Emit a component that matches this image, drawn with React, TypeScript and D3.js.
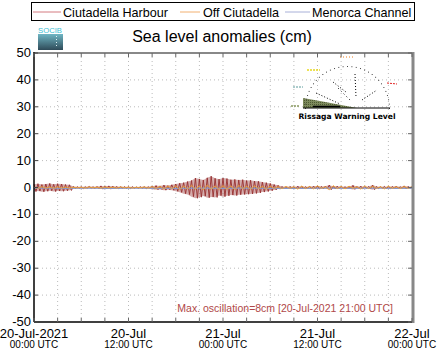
import React from "react";
import * as d3 from "d3";

// ---- data (cm), Ciutadella Harbour envelope per 30 min from 20-Jul 00:00 to 22-Jul 00:00
const harbourHigh = [
  1.2, 1.4, 1.1, 1.3, 1.5, 1.2, 1.4, 1.3, 1.1, 1.0,
  0.4, 0.3, 0.3, 0.3, 0.4, 0.3, 0.4, 0.6, 0.5, 0.6,
  0.5, 0.4, 0.3, 0.3, 0.3, 0.3, 0.2, 0.3, 0.3, 0.3,
  0.5, 0.7, 0.6, 0.9, 0.7, 1.0, 1.3, 1.6, 1.8, 2.2,
  2.6, 3.5, 3.2, 2.8, 3.6, 4.2, 3.4, 3.1, 3.5, 3.3,
  2.9, 3.0, 2.8, 2.9, 2.6, 2.7, 2.4, 2.3, 2.0, 1.8,
  1.5, 1.1, 0.8, 0.4, 0.3, 0.4, 0.3, 0.5, 0.4, 0.3,
  0.4, 0.5, 0.6, 0.4, 0.5, 0.9, 0.4, 0.5, 0.4, 0.3,
  0.4, 0.8, 0.4, 0.5, 0.3, 0.4, 0.9, 0.4, 0.3, 0.4,
  0.3, 0.4, 0.5, 0.3, 0.6, 0.4, 0.3,
];
const harbourLow = [
  -1.5, -1.3, -1.6, -1.4, -1.2, -1.5, -1.3, -1.4, -1.2, -1.1,
  -0.4, -0.3, -0.4, -0.3, -0.3, -0.4, -0.4, -0.6, -0.5, -0.6,
  -0.4, -0.4, -0.3, -0.3, -0.4, -0.3, -0.3, -0.3, -0.4, -0.3,
  -0.6, -0.8, -0.7, -1.0, -0.8, -1.0, -1.4, -1.8, -2.3, -2.6,
  -3.4, -4.0, -3.6, -3.2, -3.8, -3.5, -3.7, -3.0, -3.4, -3.1,
  -2.8, -3.0, -2.7, -2.6, -2.5, -2.4, -2.2, -2.0, -1.7, -1.5,
  -1.2, -0.9, -0.6, -0.4, -0.4, -0.3, -0.5, -0.4, -0.3, -0.4,
  -0.5, -0.4, -0.6, -0.5, -0.4, -0.8, -0.5, -0.4, -0.3, -0.4,
  -0.5, -0.7, -0.4, -0.4, -0.3, -0.5, -0.8, -0.4, -0.3, -0.4,
  -0.4, -0.3, -0.4, -0.3, -0.5, -0.3, -0.4,
];
// Off Ciutadella envelope per hour
const offHigh = [
  0.2, 0.3, 0.2, 0.3, 0.2, 0.1, 0.1, 0.2, 0.1, 0.2,
  0.1, 0.2, 0.1, 0.1, 0.2, 0.3, 0.4, 0.5, 0.6, 0.5,
  0.8, 0.6, 0.9, 0.5, 0.7, 0.6, 0.8, 0.5, 0.6, 0.4,
  0.5, 0.3, 0.4, 0.3, 0.5, 0.4, 0.6, 0.3, 0.7, 0.4,
  0.5, 0.3, 0.6, 0.4, 0.3, 0.5, 0.3, 0.4, 0.3,
];
const offLow = [
  -0.3, -0.2, -0.3, -0.2, -0.2, -0.1, -0.2, -0.1, -0.2, -0.1,
  -0.2, -0.1, -0.2, -0.1, -0.2, -0.3, -0.5, -0.4, -0.7, -0.5,
  -0.6, -0.9, -0.5, -0.7, -0.6, -0.8, -0.5, -0.6, -0.4, -0.5,
  -0.3, -0.4, -0.3, -0.6, -0.4, -0.5, -0.3, -0.8, -0.4, -0.5,
  -0.3, -0.6, -0.4, -0.3, -0.5, -0.3, -0.4, -0.3, -0.3,
];
// Menorca Channel, every 2 h
const channel = [
  -0.2, -0.2, -0.3, -0.2, -0.2, -0.3, -0.2, -0.2, -0.3, -0.3, -0.2, -0.2,
  -0.3, -0.2, -0.2, -0.3, -0.2, -0.3, -0.2, -0.2, -0.3, -0.2, -0.2, -0.3, -0.2,
];
const seriesNames = ["Ciutadella Harbour", "Off Ciutadella", "Menorca Channel"];
const seriesColors = ["#983030", "#f0a030", "#8a98c8"];
const legendColors = ["#d47a80", "#f2b070", "#a8b0d8"];
const yTicks = [50, 40, 30, 20, 10, 0, -10, -20, -30, -40, -50];
const xLabelDates = ["20-Jul-2021", "20-Jul", "21-Jul", "21-Jul", "22-Jul"];
const xLabelTimes = ["00:00 UTC", "12:00 UTC", "00:00 UTC", "12:00 UTC", "00:00 UTC"];
const annotation = "Max. oscillation=8cm [20-Jul-2021 21:00 UTC]";

const start = new Date(Date.UTC(2021, 6, 20, 0, 0));
const end = new Date(Date.UTC(2021, 6, 22, 0, 0));
const H = 3600 * 1000;

export default function App() {
  const L = 34, R = 412, T = 53, B = 322;
  const x = d3.scaleUtc().domain([start, end]).range([L, R]);
  const y = d3.scaleLinear().domain([-50, 50]).range([B, T]);
  const font = "'Liberation Sans', Arial, Helvetica, sans-serif";

  const minor = d3.range(0, 49, 3).map((h) => new Date(start.getTime() + h * H));
  const major = d3.range(0, 49, 12).map((h) => new Date(start.getTime() + h * H));

  // harbour zigzag
  const hPts: [number, number][] = [];
  harbourHigh.forEach((v, i) => {
    const t = start.getTime() + i * 0.5 * H;
    hPts.push([x(new Date(t)), y(v)]);
    if (i < harbourHigh.length - 1)
      hPts.push([x(new Date(t + 0.25 * H)), y(harbourLow[i])]);
  });
  const line = d3.line<[number, number]>();
  const area = d3
    .area<number>()
    .x((_, i) => x(new Date(start.getTime() + i * 0.5 * H)))
    .y0((_, i) => y(harbourLow[i]))
    .y1((v) => y(v));

  const oPts: [number, number][] = [];
  offHigh.forEach((v, i) => {
    const t = start.getTime() + i * H;
    oPts.push([x(new Date(t)), y(v)]);
    if (i < offHigh.length - 1) oPts.push([x(new Date(t + 0.5 * H)), y(offLow[i])]);
  });
  const cPts: [number, number][] = channel.map((v, i) => [
    x(new Date(start.getTime() + i * 2 * H)),
    y(v),
  ]);

  // inset gauge
  const gcx = 347, gcy = 108, gr = 42;
  const arcDots = d3.range(0, 31).map((k) => {
    const a = Math.PI - (k / 30) * Math.PI;
    return [gcx + gr * Math.cos(a), gcy - gr * Math.sin(a)];
  });

  return (
    <svg width={441} height={359} style={{ display: "block", position: "absolute", left: 0, top: 0 }}>
      <defs>
        <linearGradient id="logo" x1="0" y1="0" x2="0" y2="1">
          <stop offset="0" stopColor="#6fb6c4" />
          <stop offset="1" stopColor="#2e4a58" />
        </linearGradient>
        <pattern id="olive" width="2" height="2" patternUnits="userSpaceOnUse">
          <rect width="2" height="2" fill="#7d8a5c" />
          <rect width="1" height="1" fill="#4e5a32" />
        </pattern>
      </defs>
      <rect width={441} height={359} fill="#fff" />

      {/* legend */}
      <rect x={31.5} y={2.5} width={383} height={18} fill="#fff" stroke="#000" strokeWidth={1} />
      {[
        [33, 61, 63],
        [180, 200, 203],
        [285, 310, 312],
      ].map(([a, b, tx], i) => (
        <g key={i}>
          <line x1={a} x2={b} y1={12} y2={12} stroke={legendColors[i]} strokeWidth={1} />
          <text x={tx} y={16.5} fontFamily={font} fontSize={12.6} fill="#000">
            {seriesNames[i]}
          </text>
        </g>
      ))}

      {/* logo */}
      <text x={38} y={33} fontFamily={font} fontSize={7.5} fill="#3cc0d4" textLength={24} lengthAdjust="spacingAndGlyphs">
        SOCIB
      </text>
      <rect x={38} y={34} width={25} height={16} fill="url(#logo)" />
      {[36, 39, 42, 45].map((yy) => (
        <rect key={yy} x={56} y={yy} width={1} height={1} fill="#dfeff2" />
      ))}

      {/* title */}
      <text x={222} y={42} textAnchor="middle" fontFamily={font} fontSize={16} fill="#000">
        Sea level anomalies (cm)
      </text>

      {/* grid */}
      {minor.slice(1, -1).map((d, i) => (
        <line key={"gx" + i} x1={x(d)} x2={x(d)} y1={T} y2={B} stroke="#bbb" strokeWidth={1} strokeDasharray="1,3" />
      ))}
      {yTicks.slice(1, -1).map((v) => (
        <line key={"gy" + v} x1={L} x2={R} y1={y(v)} y2={y(v)} stroke="#bbb" strokeWidth={1} strokeDasharray="1,3" />
      ))}

      {/* series */}
      <path d={area(harbourHigh) || ""} fill="#a04848" opacity={0.45} />
      <path d={line(hPts) || ""} fill="none" stroke={seriesColors[0]} strokeWidth={1} opacity={0.9} />
      <path d={line(cPts) || ""} fill="none" stroke={seriesColors[2]} strokeWidth={1.2} />
      <path d={line(oPts) || ""} fill="none" stroke={seriesColors[1]} strokeWidth={0.9} />

      {/* inset: Rissaga warning level */}
      <g>
        <path d={`M303,${gcy} L303,98 L320,101 L357,${gcy} Z`} fill="url(#olive)" />
        {arcDots.map(([ax, ay], i) => (
          <rect key={i} x={ax} y={ay} width={1} height={1} fill="#444" />
        ))}
        <line x1={303} x2={390} y1={gcy} y2={gcy} stroke="#000" strokeWidth={1} />
        <line x1={313} x2={340} y1={106.5} y2={106.5} stroke="#000" strokeWidth={1.5} />
        <path d="M340,57 L353,57" stroke="#f08020" strokeWidth={1} strokeDasharray="1,2" />
        <path d="M307,70 L320,70" stroke="#e8d820" strokeWidth={1.5} strokeDasharray="2,1" />
        <path d="M293,87 L303,87" stroke="#5a9a9a" strokeWidth={1} strokeDasharray="2,1" />
        <path d="M291,106 L300,106" stroke="#8a9a60" strokeWidth={1.5} strokeDasharray="2,1" />
        <path d="M387,83 L397,84" stroke="#e02020" strokeWidth={1} strokeDasharray="2,1" />
        <path d="M316,93 L340,104" stroke="#000" strokeWidth={1} strokeDasharray="1,2" />
        <path d="M355,74 L356,97" stroke="#000" strokeWidth={1} strokeDasharray="1,2" />
        <path d="M333,82 L346,92" stroke="#000" strokeWidth={1} strokeDasharray="1,2" />
        <path d="M362,100 L377,90" stroke="#000" strokeWidth={1} strokeDasharray="1,2" />
        <path d="M338,88 L352,102" stroke="#000" strokeWidth={1} strokeDasharray="1,3" />
        <text x={347} y={118.5} textAnchor="middle" fontFamily="'DejaVu Sans', sans-serif" fontWeight="bold" fontSize={7.6} fill="#000">
          Rissaga Warning Level
        </text>
      </g>

      {/* axes */}
      <line x1={L} x2={R} y1={T} y2={T} stroke="#888" strokeWidth={2} />
      <line x1={R + 1} x2={R + 1} y1={T - 1} y2={B + 1} stroke="#888" strokeWidth={3} />
      <line x1={L} x2={L} y1={T - 1} y2={B} stroke="#000" strokeWidth={1.5} />
      <line x1={L} x2={R} y1={B} y2={B} stroke="#000" strokeWidth={1.5} />
      {minor.map((d, i) => (
        <g key={"tx" + i}>
          <line x1={x(d)} x2={x(d)} y1={B} y2={B - 4} stroke="#666" strokeWidth={1} />
          <line x1={x(d)} x2={x(d)} y1={T} y2={T + 4} stroke="#666" strokeWidth={1} />
        </g>
      ))}
      {yTicks.map((v) => (
        <g key={"ty" + v}>
          <line x1={L} x2={L + 4} y1={y(v)} y2={y(v)} stroke="#444" strokeWidth={1} />
          <line x1={R} x2={R - 4} y1={y(v)} y2={y(v)} stroke="#666" strokeWidth={1} />
          <text x={31} y={y(v) + 4} textAnchor="end" fontFamily={font} fontSize={13} fill="#000">
            {v}
          </text>
        </g>
      ))}
      {major.map((d, i) => (
        <g key={"lx" + i}>
          <text x={x(d)} y={337.5} textAnchor="middle" fontFamily={font} fontSize={13} fill="#000">
            {xLabelDates[i]}
          </text>
          <text x={x(d)} y={348} textAnchor="middle" fontFamily={font} fontSize={10} fill="#000">
            {xLabelTimes[i]}
          </text>
        </g>
      ))}

      <text x={393} y={312} textAnchor="end" fontFamily={font} fontSize={10.5} fill="#b04848">
        {annotation}
      </text>
    </svg>
  );
}
